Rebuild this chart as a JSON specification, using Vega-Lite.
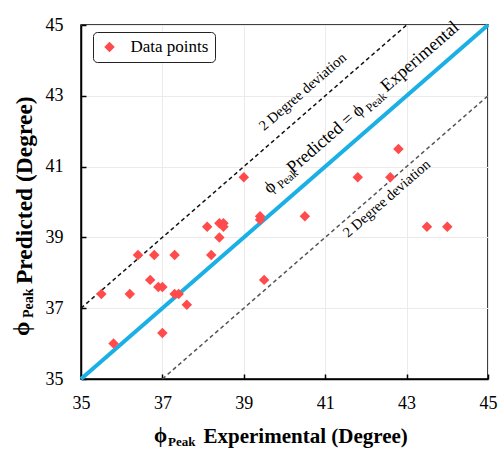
{
  "$schema": "https://vega.github.io/schema/vega-lite/v6.json",
  "width": 407,
  "height": 354,
  "autosize": {"type": "none"},
  "padding": {"left": 81, "top": 25, "right": 11, "bottom": 71},
  "background": "white",
  "config": {
    "font": "Liberation Serif",
    "view": {"stroke": "#000", "strokeWidth": 1.5},
    "legend": {
      "orient": "none",
      "legendX": 12,
      "legendY": 7,
      "strokeColor": "#222",
      "cornerRadius": 4,
      "padding": 6.5,
      "fillColor": "white",
      "labelFont": "Liberation Serif",
      "labelFontSize": 17,
      "labelColor": "#000",
      "symbolType": "diamond",
      "symbolSize": 110,
      "symbolStrokeWidth": 0,
      "symbolOffset": 1.5,
      "labelOffset": 12.5
    }
  },
  "datasets": {
    "points": [
      {"x": 35.5, "y": 37.4, "series": "Data points"},
      {"x": 35.8, "y": 36.0, "series": "Data points"},
      {"x": 36.2, "y": 37.4, "series": "Data points"},
      {"x": 36.4, "y": 38.5, "series": "Data points"},
      {"x": 36.7, "y": 37.8, "series": "Data points"},
      {"x": 36.8, "y": 38.5, "series": "Data points"},
      {"x": 36.9, "y": 37.6, "series": "Data points"},
      {"x": 37.0, "y": 37.6, "series": "Data points"},
      {"x": 37.0, "y": 36.3, "series": "Data points"},
      {"x": 37.3, "y": 38.5, "series": "Data points"},
      {"x": 37.3, "y": 37.4, "series": "Data points"},
      {"x": 37.4, "y": 37.4, "series": "Data points"},
      {"x": 37.6, "y": 37.1, "series": "Data points"},
      {"x": 38.1, "y": 39.3, "series": "Data points"},
      {"x": 38.2, "y": 38.5, "series": "Data points"},
      {"x": 38.4, "y": 39.0, "series": "Data points"},
      {"x": 38.4, "y": 39.4, "series": "Data points"},
      {"x": 38.5, "y": 39.4, "series": "Data points"},
      {"x": 38.5, "y": 39.3, "series": "Data points"},
      {"x": 39.0, "y": 40.7, "series": "Data points"},
      {"x": 39.4, "y": 39.6, "series": "Data points"},
      {"x": 39.4, "y": 39.5, "series": "Data points"},
      {"x": 39.5, "y": 37.8, "series": "Data points"},
      {"x": 40.5, "y": 39.6, "series": "Data points"},
      {"x": 41.8, "y": 40.7, "series": "Data points"},
      {"x": 42.6, "y": 40.7, "series": "Data points"},
      {"x": 42.8, "y": 41.5, "series": "Data points"},
      {"x": 43.5, "y": 39.3, "series": "Data points"},
      {"x": 44.0, "y": 39.3, "series": "Data points"}
    ],
    "lines": [
      {"line": "fit", "x": 35, "y": 35},
      {"line": "fit", "x": 45, "y": 45},
      {"line": "upper", "x": 35, "y": 37},
      {"line": "upper", "x": 43, "y": 45},
      {"line": "lower", "x": 37, "y": 35},
      {"line": "lower", "x": 45, "y": 43}
    ],
    "labels": [
      {"role": "main", "label": "ϕ", "x": 39.64, "y": 40.22},
      {"role": "main", "label": "Predicted =", "x": 40.206, "y": 40.786},
      {"role": "main", "label": "ϕ", "x": 41.803, "y": 42.383},
      {"role": "main", "label": "Experimental", "x": 42.515, "y": 43.095},
      {"role": "sub", "label": "Peak", "x": 39.927, "y": 40.358},
      {"role": "sub", "label": "Peak", "x": 42.098, "y": 42.528},
      {"role": "dev", "label": "2 Degree deviation", "x": 39.496, "y": 41.996},
      {"role": "dev", "label": "2 Degree deviation", "x": 41.56, "y": 38.98},
      {"role": "xphi", "label": "ϕ", "x": 36.794, "y": 33.223},
      {"role": "xpeak", "label": "Peak", "x": 37.138, "y": 33.11},
      {"role": "yphi", "label": "ϕ", "x": 33.722, "y": 36.213},
      {"role": "ypeak", "label": "Peak", "x": 33.821, "y": 36.721}
    ]
  },
  "encoding": {
    "x": {
      "field": "x",
      "type": "quantitative",
      "scale": {"domain": [35, 45], "nice": false, "zero": false},
      "axis": {
        "values": [35, 37, 39, 41, 43, 45],
        "title": "Experimental (Degree)",
        "titleX": 122,
        "titleY": 63,
        "titleAlign": "left",
        "titleBaseline": "alphabetic",
        "titleFont": "Liberation Serif",
        "titleFontSize": 21,
        "titleFontWeight": "bold",
        "titleColor": "#000",
        "labelFont": "Liberation Serif",
        "labelFontSize": 18,
        "labelColor": "#000",
        "labelFlush": false,
        "labelPadding": 20,
        "tickSize": -5,
        "tickColor": "#000",
        "tickWidth": 1.5,
        "domainColor": "#000",
        "domainWidth": 1.5,
        "grid": true,
        "gridColor": "#ebebeb",
        "gridWidth": 1
      }
    },
    "y": {
      "field": "y",
      "type": "quantitative",
      "scale": {"domain": [35, 45], "nice": false, "zero": false},
      "axis": {
        "values": [35, 37, 39, 41, 43, 45],
        "title": "Predicted (Degree)",
        "titleX": -50,
        "titleY": 258.5,
        "titleAngle": 270,
        "titleAlign": "left",
        "titleBaseline": "alphabetic",
        "titleFont": "Liberation Serif",
        "titleFontSize": 23.5,
        "titleFontWeight": "bold",
        "titleColor": "#000",
        "labelFont": "Liberation Serif",
        "labelFontSize": 18,
        "labelColor": "#000",
        "labelFlush": false,
        "labelPadding": 23,
        "tickSize": -5,
        "tickColor": "#000",
        "tickWidth": 1.5,
        "domainColor": "#000",
        "domainWidth": 1.5,
        "grid": true,
        "gridColor": "#ebebeb",
        "gridWidth": 1
      }
    }
  },
  "layer": [
    {
      "data": {"name": "lines"},
      "transform": [{"filter": "datum.line == 'upper'"}],
      "mark": {"type": "line", "color": "#111", "strokeWidth": 1.5, "strokeDash": [4, 3]},
      "encoding": {}
    },
    {
      "data": {"name": "lines"},
      "transform": [{"filter": "datum.line == 'lower'"}],
      "mark": {"type": "line", "color": "#555", "strokeWidth": 1.5, "strokeDash": [4, 3]},
      "encoding": {}
    },
    {
      "data": {"name": "lines"},
      "transform": [{"filter": "datum.line == 'fit'"}],
      "mark": {"type": "line", "color": "#1AB0E6", "strokeWidth": 4},
      "encoding": {}
    },
    {
      "data": {"name": "points"},
      "mark": {"type": "point", "shape": "diamond", "filled": true, "size": 110, "opacity": 1},
      "encoding": {
        "color": {
          "field": "series",
          "type": "nominal",
          "scale": {"range": ["#FF4B4B"]},
          "legend": {"title": null}
        }
      }
    },
    {
      "data": {"name": "labels"},
      "transform": [{"filter": "datum.role == 'main'"}],
      "mark": {"type": "text", "font": "Liberation Serif", "fontSize": 18, "angle": 319, "align": "left", "baseline": "alphabetic", "color": "#000"},
      "encoding": {"text": {"field": "label"}}
    },
    {
      "data": {"name": "labels"},
      "transform": [{"filter": "datum.role == 'sub'"}],
      "mark": {"type": "text", "font": "Liberation Serif", "fontSize": 12, "angle": 319, "align": "left", "baseline": "alphabetic", "color": "#000"},
      "encoding": {"text": {"field": "label"}}
    },
    {
      "data": {"name": "labels"},
      "transform": [{"filter": "datum.role == 'dev'"}],
      "mark": {"type": "text", "font": "Liberation Serif", "fontSize": 14.5, "angle": 319, "align": "left", "baseline": "alphabetic", "color": "#000"},
      "encoding": {"text": {"field": "label"}}
    },
    {
      "data": {"name": "labels"},
      "transform": [{"filter": "datum.role == 'xphi'"}],
      "mark": {"type": "text", "font": "Liberation Serif", "fontSize": 21, "fontWeight": "bold", "align": "left", "baseline": "alphabetic", "color": "#000"},
      "encoding": {"text": {"field": "label"}}
    },
    {
      "data": {"name": "labels"},
      "transform": [{"filter": "datum.role == 'xpeak'"}],
      "mark": {"type": "text", "font": "Liberation Serif", "fontSize": 13, "fontWeight": "bold", "align": "left", "baseline": "alphabetic", "color": "#000"},
      "encoding": {"text": {"field": "label"}}
    },
    {
      "data": {"name": "labels"},
      "transform": [{"filter": "datum.role == 'yphi'"}],
      "mark": {"type": "text", "font": "Liberation Serif", "fontSize": 23, "fontWeight": "bold", "angle": 270, "align": "left", "baseline": "alphabetic", "color": "#000"},
      "encoding": {"text": {"field": "label"}}
    },
    {
      "data": {"name": "labels"},
      "transform": [{"filter": "datum.role == 'ypeak'"}],
      "mark": {"type": "text", "font": "Liberation Serif", "fontSize": 14, "fontWeight": "bold", "angle": 270, "align": "left", "baseline": "alphabetic", "color": "#000"},
      "encoding": {"text": {"field": "label"}}
    }
  ]
}
